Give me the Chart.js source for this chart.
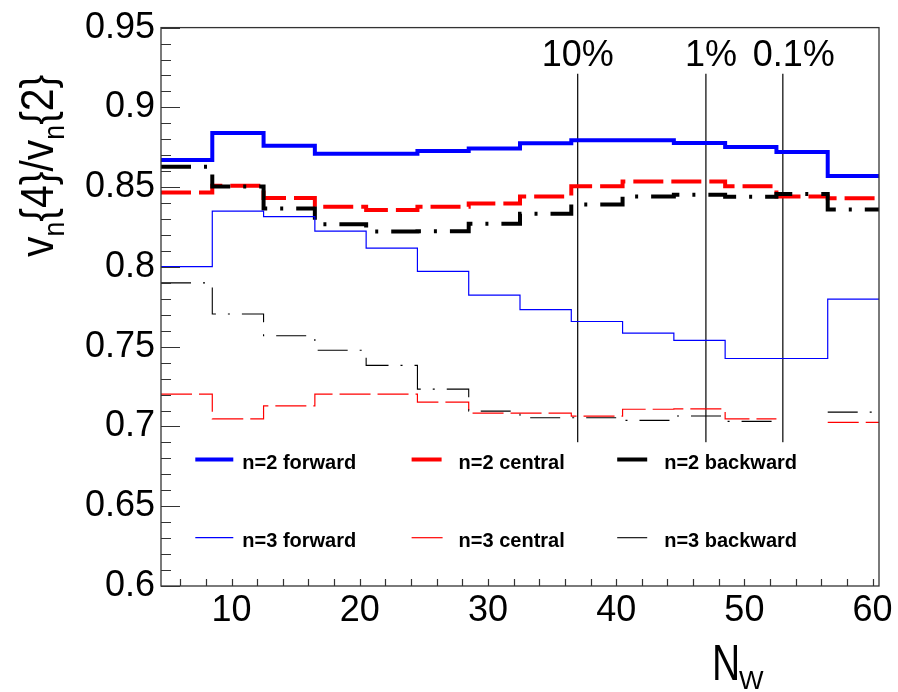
<!DOCTYPE html>
<html><head><meta charset="utf-8">
<script src="https://cdn.jsdelivr.net/npm/chart.js@4.4.1/dist/chart.umd.min.js"></script>
<style>html,body{margin:0;padding:0;background:#fff}#wrap{width:898px;height:692px}</style>
</head><body><div id="wrap"><canvas id="c" width="898" height="692"></canvas></div>
<script>
// ---- data ----
const binEdges = [4.5, 8.5, 12.5, 16.5, 20.5, 24.5, 28.5, 32.5, 36.5, 40.5, 44.5, 48.5, 52.5, 56.5, 60.5];
const n2Forward  = [0.867, 0.884, 0.876, 0.871, 0.871, 0.8726, 0.8742, 0.8775, 0.8794, 0.8794, 0.8777, 0.8752, 0.872, 0.857];
const n2Central  = [0.8467, 0.8509, 0.8432, 0.8377, 0.8356, 0.8377, 0.8397, 0.8442, 0.8505, 0.8535, 0.8535, 0.8505, 0.8442, 0.8430];
const n2Backward = [0.8628, 0.8504, 0.8366, 0.8267, 0.8222, 0.8224, 0.8271, 0.8333, 0.8391, 0.8442, 0.8453, 0.8439, 0.8457, 0.8360];
const n3Forward  = [0.8002, 0.835, 0.8315, 0.8224, 0.8118, 0.7972, 0.7823, 0.7732, 0.7658, 0.7585, 0.754, 0.7426, 0.7426, 0.7798];
const n3Central  = [0.7203, 0.7048, 0.7129, 0.7203, 0.7203, 0.7152, 0.7084, 0.7084, 0.7065, 0.7108, 0.711, 0.7048, null, 0.7026];
const n3Backward = [0.790, 0.7705, 0.7569, 0.7478, 0.7383, 0.7234, 0.7096, 0.7055, 0.7055, 0.7038, 0.7066, 0.7032, null, 0.709];
const seriesLabels = ['n=2 forward', 'n=2 central', 'n=2 backward', 'n=3 forward', 'n=3 central', 'n=3 backward'];
const xTicks = [10, 20, 30, 40, 50, 60];
const yTicks = [0.6, 0.65, 0.7, 0.75, 0.8, 0.85, 0.9, 0.95];
const centralityLabels = ['10%', '1%', '0.1%'];
const centralityNw = [37, 47, 53];
const centralityRange = [0.69, 0.921];

function histPoints(vals) {
  const pts = [];
  vals.forEach((v, i) => {
    pts.push({x: binEdges[i], y: v});
    pts.push({x: binEdges[i + 1], y: v});
  });
  return pts;
}

const styles = [
  {color: '#0000ff', width: 4,   dash: []},
  {color: '#ff0000', width: 4,   dash: [30, 8]},
  {color: '#000000', width: 4,   dash: [30, 13, 3, 13]},
  {color: '#0000ff', width: 1.2, dash: []},
  {color: '#ff0000', width: 1.2, dash: [31, 7]},
  {color: '#000000', width: 1.1, dash: [30, 12, 2, 12]}
];
const allSeries = [n2Forward, n2Central, n2Backward, n3Forward, n3Central, n3Backward];

const datasets = allSeries.map((vals, i) => ({
  label: seriesLabels[i],
  data: histPoints(vals),
  borderColor: styles[i].color,
  borderWidth: styles[i].width,
  borderDash: styles[i].dash,
  borderCapStyle: 'butt',
  borderJoinStyle: 'miter',
  pointRadius: 0,
  fill: false,
  tension: 0,
  isHist: true,
  order: 6 - i
}));
centralityNw.forEach((nw, i) => {
  datasets.push({
    label: centralityLabels[i],
    data: [{x: nw, y: centralityRange[0]}, {x: nw, y: centralityRange[1]}],
    borderColor: '#000',
    borderWidth: 1.2,
    pointRadius: 0,
    fill: false,
    isHist: false,
    order: 10
  });
});

const FONT = '"Liberation Sans", Arial, Helvetica, sans-serif';

const rootPlugin = {
  id: 'rootStyle',
  afterDatasetsDraw(chart) {
    const ctx = chart.ctx;
    const a = chart.chartArea;
    const xs = chart.scales.x, ys = chart.scales.y;
    ctx.save();
    // legend box (white, covers what lies beneath)
    const lx0 = [195.3, 411.6, 617.2];
    const rowLine = [459.5, 537.7];
    const rowText = [469, 546.5];
    ctx.fillStyle = '#fff';
    ctx.fillRect(183, ys.getPixelForValue(centralityRange[0]) , 680, 128);
    const hist = chart.data.datasets.filter(d => d.isHist);
    hist.forEach((d, i) => {
      const col = i % 3, row = Math.floor(i / 3);
      ctx.beginPath();
      ctx.strokeStyle = d.borderColor;
      ctx.lineWidth = d.borderWidth;
      ctx.setLineDash(d.borderDash || []);
      ctx.lineCap = 'butt';
      ctx.moveTo(lx0[col], rowLine[row]);
      ctx.lineTo(lx0[col] + 38, rowLine[row]);
      ctx.stroke();
      ctx.setLineDash([]);
      ctx.fillStyle = '#000';
      ctx.font = 'bold 20px ' + FONT;
      ctx.textAlign = 'left';
      ctx.textBaseline = 'alphabetic';
      ctx.fillText(d.label, lx0[col] + 47, rowText[row]);
    });
    // frame
    ctx.strokeStyle = '#333';
    ctx.lineWidth = 1.3;
    ctx.strokeRect(a.left, a.top, a.right - a.left, a.bottom - a.top);
    // y ticks (inward)
    ctx.lineWidth = 1.2;
    ctx.beginPath();
    for (let k = 60; k <= 95; k++) {
      const y = Math.round(ys.getPixelForValue(k / 100)) + 0.5;
      const len = (k % 5 === 0) ? 19 : 10;
      ctx.moveTo(a.left, y); ctx.lineTo(a.left + len, y);
    }
    // x ticks (inward)
    for (let k = 6; k <= 60; k += 2) {
      const x = Math.round(xs.getPixelForValue(k)) + 0.5;
      ctx.moveTo(x, a.bottom); ctx.lineTo(x, a.bottom - 7);
    }
    ctx.stroke();
    // centrality labels
    const offs = [0, 5, 11];
    ctx.fillStyle = '#000';
    ctx.font = '36px ' + FONT;
    ctx.textAlign = 'center';
    ctx.textBaseline = 'alphabetic';
    centralityNw.forEach((nw, i) => {
      ctx.fillText(centralityLabels[i], xs.getPixelForValue(nw) + offs[i], 65.5);
    });
    // y title  v_n{4}/v_n{2}
    ctx.save();
    ctx.translate(53, 257);
    ctx.rotate(-Math.PI / 2);
    ctx.scale(0.89, 1);
    ctx.textAlign = 'left';
    const parts = [['v', 46, 0], ['n', 30, 11], ['{4}/v', 46, 0], ['n', 30, 11], ['{2}', 46, 0]];
    let px = 0;
    parts.forEach(p => {
      ctx.font = p[1] + 'px ' + FONT;
      ctx.fillText(p[0], px, p[2]);
      px += ctx.measureText(p[0]).width;
    });
    ctx.restore();
    // x title N_W
    ctx.save();
    ctx.textAlign = 'left';
    ctx.translate(712, 680);
    ctx.scale(0.78, 1);
    ctx.font = '50px ' + FONT;
    ctx.fillText('N', 0, 0);
    ctx.restore();
    ctx.font = '26px ' + FONT;
    ctx.textAlign = 'left';
    ctx.fillText('W', 739, 689);
    ctx.restore();
  }
};

new Chart(document.getElementById('c'), {
  type: 'line',
  data: {datasets},
  options: {
    responsive: false,
    animation: false,
    events: [],
    layout: {padding: {left: 0, top: 21, right: 19, bottom: 0}},
    plugins: {legend: {display: false}, tooltip: {enabled: false}, title: {display: false}},
    scales: {
      x: {
        type: 'linear', min: 4.5, max: 60.5,
        afterBuildTicks: s => { s.ticks = xTicks.map(v => ({value: v})); },
        afterFit: s => { s.height = 106; },
        ticks: {includeBounds: false, padding: 3, color: '#000', font: {family: FONT, size: 36},
                maxRotation: 0, autoSkip: false, callback: v => String(v)},
        grid: {display: false, drawTicks: false},
        border: {display: false}
      },
      y: {
        type: 'linear', min: 0.6, max: 0.95,
        afterBuildTicks: s => { s.ticks = yTicks.map(v => ({value: v})); },
        afterFit: s => { s.width = 161; },
        ticks: {padding: 6, color: '#000', font: {family: FONT, size: 36},
                autoSkip: false, callback: v => String(Math.round(v * 100) / 100)},
        grid: {display: false, drawTicks: false},
        border: {display: false}
      }
    }
  },
  plugins: [rootPlugin]
});
</script>
</body></html>
